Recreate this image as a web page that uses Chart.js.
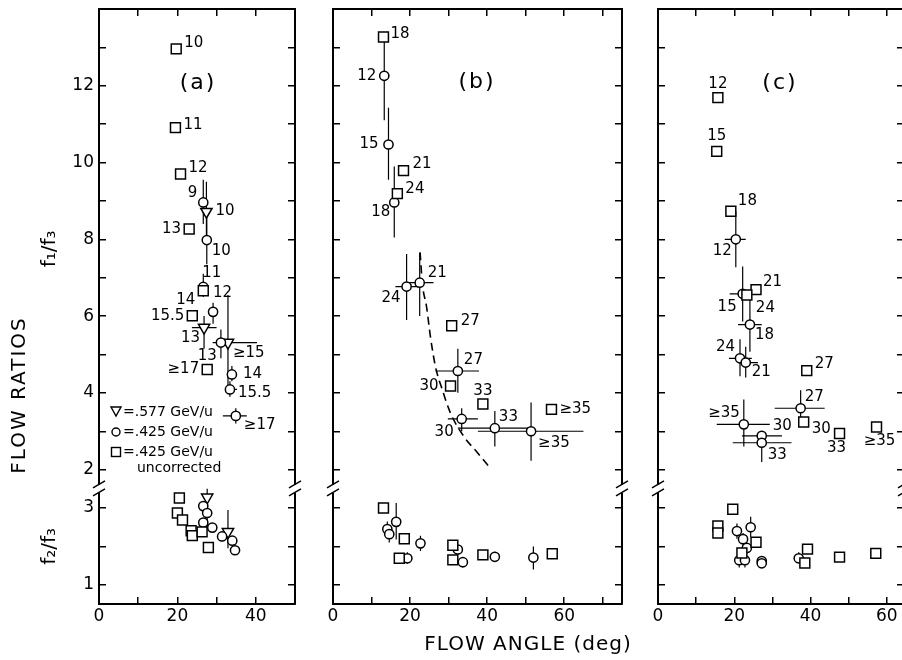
<!DOCTYPE html>
<html>
<head>
<meta charset="utf-8">
<script src="https://cdn.jsdelivr.net/npm/chart.js@4.4.0/dist/chart.umd.min.js"></script>
<style>
html, body { margin: 0; padding: 0; background: #fff; overflow: hidden; width: 902px; height: 660px; }
canvas { position: absolute; left: 0; top: 0; }
</style>
</head>
<body>
<canvas id="pa" width="920" height="660"></canvas>
<canvas id="pb" width="920" height="660"></canvas>
<canvas id="pc" width="920" height="660"></canvas>
<script>
// axis ranges and ticks
var UP_MIN = 1.5, UP_MAX = 14, LO_MIN = 0.5, LO_MAX = 3.5;
var UP_TICKS = [2, 3, 4, 5, 6, 7, 8, 9, 10, 11, 12, 13];
var UP_TICK_LABELS = [2, 4, 6, 8, 10, 12];
var LO_TICKS = [1, 2, 3];
var LO_TICK_LABELS = [1, 3];
var X_STEP = 10;
var X_TICK_LABELS = [0, 20, 40, 60];
var X_MAX_A = 50, X_MAX_B = 75, X_MAX_C = 64.5;

// rows: [angle, ratio, xlo, xhi, ylo, yhi]
// panel (a)
var aSqUp = [[19.7, 12.96], [19.5, 10.91], [20.8, 9.70], [23.0, 8.27], [26.6, 6.66], [23.8, 6.01], [27.6, 4.61]];
var aSqUpLbl = ['10', '11', '12', '13', '14', '15.5', '\u226517'];
var aCiUp = [
  [26.6, 8.96, null, null, 8.4, 9.55],
  [27.5, 7.98, null, null, 7.35, 8.7],
  [26.6, 6.76, null, null, 6.5, 7.1],
  [29.1, 6.11, null, null, 5.8, 6.35],
  [31.1, 5.31, 29.0, 33.5, 4.9, 5.65],
  [33.9, 4.48, 33.0, 35.0, 4.3, 4.7],
  [33.4, 4.09, 32.2, 35.2, 3.9, 4.3],
  [34.9, 3.40, 31.6, 37.7, 3.2, 3.6]];
var aCiUpLbl = ['9', '10', '11', '12', '13', '14', '15.5', '\u226517'];
var aTrUp = [[27.4, 8.72, null, null, 7.9, 9.5], [26.8, 5.70, 23.7, 30.0, 5.15, 6.0], [32.9, 5.31, 30.4, 40.3, 4.1, 6.55]];
var aTrUpLbl = ['10', '13', '\u226515'];
var aSqLo = [[20.5, 3.26], [20.0, 2.87], [21.3, 2.69], [23.5, 2.41], [23.8, 2.28], [26.3, 2.38], [27.9, 1.97]];
var aCiLo = [[26.6, 3.05], [27.6, 2.87], [26.6, 2.62], [28.9, 2.49], [31.4, 2.26], [34.0, 2.15], [34.7, 1.90]];
var aTrLo = [[27.6, 3.28, null, null, 2.45, 3.65], [32.9, 2.38, null, null, 1.95, 2.95]];

// panel (b)
var bSqUp = [[13.1, 13.27], [18.3, 9.79], [16.7, 9.19], [30.8, 5.75], [30.5, 4.18], [38.9, 3.71], [56.7, 3.57]];
var bSqUpLbl = ['18', '21', '24', '27', '30', '33', '\u226535'];
var bCiUp = [
  [13.3, 12.26, 12.2, 14.6, 11.1, 13.27],
  [14.4, 10.47, 13.3, 15.6, 9.55, 11.43],
  [15.9, 8.96, 15.0, 16.9, 8.05, 9.9],
  [19.1, 6.77, 16.2, 22.2, 5.9, 7.62],
  [22.5, 6.87, 19.6, 26.1, 6.0, 7.65],
  [32.4, 4.57, 26.6, 37.9, 4.0, 5.15],
  [33.4, 3.32, 29.8, 37.6, 3.0, 3.6],
  [42.0, 3.08, 32.4, 51.4, 2.6, 3.53],
  [51.4, 3.00, 37.6, 65.0, 2.23, 3.75]];
var bCiUpLbl = ['12', '15', '18', '24', '21', '27', '30', '33', '\u226535'];
var bCurve = [[22.6, 7.66], [23.2, 6.84], [24.3, 6.23], [25.3, 5.45], [26.6, 4.68], [28.4, 4.07], [30.5, 3.47], [34.0, 2.86], [37.5, 2.44], [41.0, 2.02]];
var bSqLo = [[13.1, 3.00], [18.5, 2.20], [17.2, 1.69], [31.1, 2.03], [31.1, 1.65], [38.9, 1.78], [56.9, 1.81]];
var bCiLo = [
  [14.1, 2.45, null, null, 2.25, 2.65],
  [14.6, 2.32, null, null, 2.1, 2.55],
  [16.4, 2.64, null, null, 2.18, 3.13],
  [19.3, 1.69, null, null, 1.55, 1.85],
  [22.7, 2.08, null, null, 1.88, 2.28],
  [32.4, 1.92, null, null, null, null],
  [33.7, 1.59, null, null, 1.45, 1.72],
  [42.0, 1.73, null, null, 1.6, 1.86],
  [52.0, 1.71, null, null, 1.4, 2.0]];

// panel (c)
var cSqUp = [[15.7, 11.69], [15.4, 10.29], [19.1, 8.73], [25.7, 6.69], [23.3, 6.55], [39.0, 4.58], [38.2, 3.24], [47.6, 2.94], [57.3, 3.11]];
var cSqUpLbl = ['12', '15', '18', '21', '24', '27', '30', '33', '\u226535'];
var cCiUp = [
  [20.4, 8.00, 17.5, 23.0, 7.27, 8.73],
  [22.2, 6.58, 18.8, 24.0, 5.86, 7.29],
  [24.1, 5.78, 21.0, 27.2, 5.07, 6.5],
  [21.5, 4.90, 18.6, 24.6, 4.43, 5.4],
  [23.0, 4.79, 21.5, 26.2, 4.4, 5.2],
  [37.4, 3.60, 30.6, 43.7, 3.13, 4.07],
  [22.5, 3.18, 15.4, 29.3, 2.6, 3.83],
  [27.2, 2.88, 22.0, 32.5, null, null],
  [27.2, 2.70, 19.6, 35.0, 2.2, 2.97]];
var cCiUpLbl = ['12', '15', '18', '24', '21', '27', '\u226535', '30', '33'];
var cSqLo = [[19.6, 2.97], [15.7, 2.53], [15.7, 2.35], [25.7, 2.11], [22.0, 1.83], [38.5, 1.57], [39.2, 1.93], [47.6, 1.72], [57.1, 1.82]];
var cCiLo = [
  [20.7, 2.40, null, null, 2.2, 2.6],
  [24.3, 2.50, null, null, 2.24, 2.77],
  [22.3, 2.19, null, null, 2.0, 2.35],
  [23.3, 1.96, null, null, null, null],
  [21.3, 1.64, null, null, 1.45, 1.8],
  [22.8, 1.64, null, null, 1.45, 1.8],
  [27.2, 1.62, null, null, 1.5, 1.75],
  [27.2, 1.56, null, null, null, null],
  [36.9, 1.69, null, null, 1.6, 1.85]];

// label placement: [dx, dy, align] in pixels from the marker
var aSqUpPos = [[8, -6, 'l'], [8, -3, 'l'], [8, -6, 'l'], [-8, 0, 'r'], [-8, 9, 'r'], [-8, 0, 'r'], [-8, 0, 'r']];
var aCiUpPos = [[-6, -9, 'r'], [5, 11, 'l'], [-1, -14, 'l'], [0, -19, 'l'], [-4, 14, 'r'], [11, 0, 'l'], [8, 4, 'l'], [8, 9, 'l']];
var aTrUpPos = [[9, -1, 'l'], [-4, 10, 'r'], [5, 11, 'l']];
var bSqUpPos = [[7, -3, 'l'], [9, -7, 'l'], [8, -5, 'l'], [9, -5, 'l'], [-12, 0, 'r'], [0, -13, 'c'], [8, 0, 'l']];
var bCiUpPos = [[-8, 0, 'r'], [-10, 0, 'r'], [-4, 10, 'r'], [-6, 12, 'r'], [8, -10, 'l'], [6, -11, 'l'], [-8, 13, 'r'], [4, -11, 'l'], [7, 12, 'l']];
var cSqUpPos = [[0, -14, 'c'], [0, -15, 'c'], [7, -10, 'l'], [7, -8, 'l'], [9, 13, 'l'], [8, -6, 'l'], [8, 7, 'l'], [-3, 15, 'c'], [3, 14, 'c']];
var cCiUpPos = [[-4, 12, 'r'], [-6, 13, 'r'], [5, 11, 'l'], [-5, -11, 'r'], [6, 10, 'l'], [4, -11, 'l'], [-4, -11, 'r'], [11, -10, 'l'], [6, 12, 'l']];

var FONT = '"DejaVu Sans", "Liberation Sans", sans-serif';

// labels, break marks, panel letters, legend
var decor = {
  id: 'decor',
  afterDatasetsDraw: function(chart) {
    var ctx = chart.ctx;
    chart.data.datasets.forEach(function(ds, i) {
      if (!ds.pointLabels) return;
      var meta = chart.getDatasetMeta(i);
      ctx.save();
      ctx.font = '15px ' + FONT;
      ctx.fillStyle = '#000';
      ctx.textBaseline = 'middle';
      meta.data.forEach(function(el, j) {
        var p = ds.labelPos[j];
        ctx.textAlign = p[2] === 'r' ? 'right' : (p[2] === 'c' ? 'center' : 'left');
        ctx.fillText(ds.pointLabels[j], el.x + p[0], el.y + p[1]);
      });
      ctx.restore();
    });
  },
  afterDraw: function(chart, args, opts) {
    var ctx = chart.ctx;
    var area = chart.chartArea;
    var yb = chart.scales.y.getPixelForValue(UP_MIN);
    ctx.save();
    [area.left, area.right].forEach(function(bx) {
      ctx.fillStyle = '#fff';
      ctx.fillRect(bx - 2, yb - 4, 4, 8);
      ctx.strokeStyle = '#000';
      ctx.lineWidth = 1.5;
      ctx.beginPath();
      ctx.moveTo(bx - 6, yb - 1); ctx.lineTo(bx + 6, yb - 8);
      ctx.moveTo(bx - 6, yb + 7); ctx.lineTo(bx + 6, yb);
      ctx.stroke();
    });
    ctx.fillStyle = '#000';
    (opts.texts || []).forEach(function(t) {
      ctx.save();
      ctx.font = t.size + 'px ' + FONT;
      ctx.letterSpacing = (t.sp || 0) + 'px';
      ctx.textAlign = 'center';
      ctx.textBaseline = 'middle';
      ctx.translate(t.x, t.y);
      if (t.rot) ctx.rotate(t.rot * Math.PI / 180);
      ctx.fillText(t.t, 0, 0);
      ctx.restore();
    });
    if (opts.legend) {
      var lx = 116;
      ctx.strokeStyle = '#000';
      ctx.lineWidth = 1.4;
      ctx.beginPath();
      ctx.moveTo(lx - 5, 407); ctx.lineTo(lx + 5, 407); ctx.lineTo(lx, 416); ctx.closePath();
      ctx.stroke();
      ctx.beginPath();
      ctx.arc(lx, 432, 4, 0, Math.PI * 2);
      ctx.stroke();
      ctx.strokeRect(lx - 4.5, 447.5, 9, 9);
      ctx.font = '14px ' + FONT;
      ctx.textAlign = 'left';
      ctx.textBaseline = 'middle';
      ctx.fillText('=.577 GeV/u', 123, 412);
      ctx.fillText('=.425 GeV/u', 123, 432);
      ctx.fillText('=.425 GeV/u', 123, 452);
      ctx.fillText('uncorrected', 137, 468);
    }
    ctx.restore();
  }
};

function noPad(s) {
  s.paddingTop = 0; s.paddingBottom = 0; s.paddingLeft = 0; s.paddingRight = 0;
}

function yScale(o) {
  return {
    type: 'linear', position: o.side, stack: o.side, stackWeight: o.max - o.min, weight: o.weight,
    min: o.min, max: o.max,
    afterBuildTicks: function(s) { s.ticks = o.ticks.map(function(v) { return {value: v}; }); },
    afterFit: function(s) { s.width = o.width; noPad(s); },
    ticks: {
      display: !!o.labels, autoSkip: false, padding: 12, color: '#000', font: {family: FONT, size: 17},
      callback: function(v) { return o.labels && o.labels.indexOf(v) >= 0 ? String(v) : ''; }
    },
    grid: {drawOnChartArea: false, drawTicks: true, tickLength: -7, color: '#000', lineWidth: 1.5},
    border: {display: true, color: '#000', width: 2},
    title: o.title ? {display: true, text: o.title, color: '#000', font: {family: FONT, size: 20}, padding: {top: 38, bottom: 0}} : {display: false}
  };
}

function xScale(pos, xMax) {
  return {
    type: 'linear', position: pos, min: 0, max: xMax,
    afterFit: function(s) { s.height = pos === 'bottom' ? 56 : 0; noPad(s); },
    ticks: {
      display: pos === 'bottom', stepSize: X_STEP, includeBounds: false, autoSkip: false, maxRotation: 0,
      padding: 9, color: '#000', font: {family: FONT, size: 17},
      callback: function(v) { return X_TICK_LABELS.indexOf(v) >= 0 ? String(v) : ''; }
    },
    grid: {drawOnChartArea: false, drawTicks: true, tickLength: -7, color: '#000', lineWidth: 1.5},
    border: {display: true, color: '#000', width: 2}
  };
}

function buildPanel(id, p) {
  var datasets = [];
  function markers(rows, style, axis, lbl, pos) {
    var r = style === 'rect' ? 7 : (style === 'triangle' ? 6.5 : 4.6);
    datasets.push({
      data: rows.map(function(q) { return {x: q[0], y: q[1]}; }),
      yAxisID: axis, pointStyle: style, pointRadius: r, pointRotation: style === 'triangle' ? 180 : 0,
      pointBackgroundColor: '#fff', pointBorderColor: '#000', pointBorderWidth: 1.5,
      showLine: false, order: 1, pointLabels: lbl || null, labelPos: pos || null
    });
  }
  function errors(rows, axis) {
    var seg = [];
    rows.forEach(function(q) {
      if (q[2] != null) seg.push({x: q[2], y: q[1]}, {x: q[3], y: q[1]}, {x: q[0], y: null});
      if (q[4] != null) seg.push({x: q[0], y: q[4]}, {x: q[0], y: q[5]}, {x: q[0], y: null});
    });
    if (!seg.length) return;
    datasets.push({
      data: seg, yAxisID: axis, showLine: true, spanGaps: false, borderColor: '#000', borderWidth: 1.2,
      pointRadius: 0, order: 5
    });
  }
  if (p.sqUp) markers(p.sqUp, 'rect', 'y', p.sqUpLbl, p.sqUpPos);
  if (p.ciUp) { markers(p.ciUp, 'circle', 'y', p.ciUpLbl, p.ciUpPos); errors(p.ciUp, 'y'); }
  if (p.trUp) { markers(p.trUp, 'triangle', 'y', p.trUpLbl, p.trUpPos); errors(p.trUp, 'y'); }
  if (p.sqLo) markers(p.sqLo, 'rect', 'y2');
  if (p.ciLo) { markers(p.ciLo, 'circle', 'y2'); errors(p.ciLo.filter(function(q) { return q.length > 2; }), 'y2'); }
  if (p.trLo) { markers(p.trLo, 'triangle', 'y2'); errors(p.trLo, 'y2'); }
  if (p.curve) {
    datasets.push({
      data: p.curve.map(function(q) { return {x: q[0], y: q[1]}; }),
      yAxisID: 'y', showLine: true, borderColor: '#000', borderWidth: 1.6, borderDash: [8, 5],
      cubicInterpolationMode: 'monotone', pointRadius: 0, order: 6
    });
  }
  var w = p.labels ? 99 : 0;
  new Chart(document.getElementById(id), {
    type: 'scatter',
    data: {datasets: datasets},
    plugins: [decor],
    options: {
      responsive: false, animation: false, events: [],
      layout: {padding: {left: p.padLeft, right: p.padRight, top: 9, bottom: 0}},
      plugins: {legend: {display: false}, tooltip: {enabled: false}, decor: {texts: p.texts, legend: p.legend}},
      scales: {
        x: xScale('bottom', p.xMax),
        xt: xScale('top', p.xMax),
        y: yScale({side: 'left', weight: 2, min: UP_MIN, max: UP_MAX, ticks: UP_TICKS, labels: p.labels ? UP_TICK_LABELS : null, width: w, title: p.labels ? 'f\u2081/f\u2083' : null}),
        y2: yScale({side: 'left', weight: 1, min: LO_MIN, max: LO_MAX, ticks: LO_TICKS, labels: p.labels ? LO_TICK_LABELS : null, width: w, title: p.labels ? 'f\u2082/f\u2083' : null}),
        yr: yScale({side: 'right', weight: 1, min: UP_MIN, max: UP_MAX, ticks: UP_TICKS, labels: null, width: 0}),
        yr2: yScale({side: 'right', weight: 2, min: LO_MIN, max: LO_MAX, ticks: LO_TICKS, labels: null, width: 0})
      }
    }
  });
}

buildPanel('pa', {
  xMax: X_MAX_A, padLeft: 0, padRight: 625, labels: true, legend: true,
  sqUp: aSqUp, sqUpLbl: aSqUpLbl, sqUpPos: aSqUpPos,
  ciUp: aCiUp, ciUpLbl: aCiUpLbl, ciUpPos: aCiUpPos,
  trUp: aTrUp, trUpLbl: aTrUpLbl, trUpPos: aTrUpPos,
  sqLo: aSqLo, ciLo: aCiLo, trLo: aTrLo,
  texts: [{t: '(a)', x: 198, y: 83, size: 22, sp: 2}, {t: 'FLOW RATIOS', x: 20, y: 395, size: 20, rot: -90, sp: 2}]
});
buildPanel('pb', {
  xMax: X_MAX_B, padLeft: 333, padRight: 298, labels: false,
  sqUp: bSqUp, sqUpLbl: bSqUpLbl, sqUpPos: bSqUpPos,
  ciUp: bCiUp, ciUpLbl: bCiUpLbl, ciUpPos: bCiUpPos,
  curve: bCurve, sqLo: bSqLo, ciLo: bCiLo,
  texts: [{t: '(b)', x: 477, y: 82, size: 22, sp: 2}, {t: 'FLOW ANGLE (deg)', x: 528, y: 645, size: 20, sp: 1}]
});
buildPanel('pc', {
  xMax: X_MAX_C, padLeft: 658, padRight: 16, labels: false,
  sqUp: cSqUp, sqUpLbl: cSqUpLbl, sqUpPos: cSqUpPos,
  ciUp: cCiUp, ciUpLbl: cCiUpLbl, ciUpPos: cCiUpPos,
  sqLo: cSqLo, ciLo: cCiLo,
  texts: [{t: '(c)', x: 780, y: 83, size: 22, sp: 2}]
});
</script>
</body>
</html>
